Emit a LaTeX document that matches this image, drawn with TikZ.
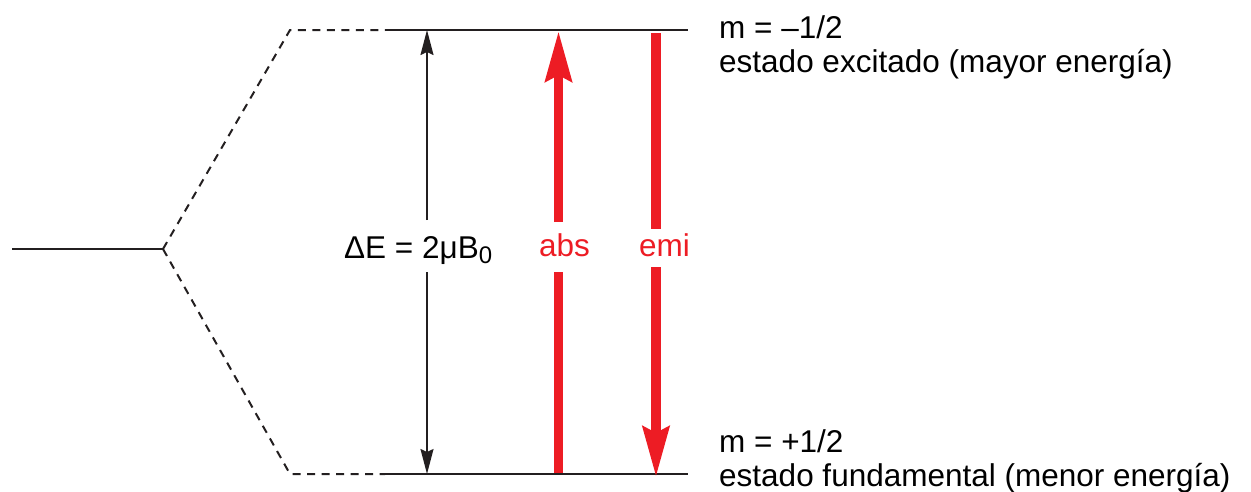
\documentclass[tikz,border=0pt]{standalone}
\usepackage{fontspec}
\setmainfont{Liberation Sans}
\usetikzlibrary{arrows.meta}
\definecolor{myred}{HTML}{ED1C24}
\definecolor{myblack}{HTML}{231F20}
\begin{document}
\begin{tikzpicture}[x=1pt,y=-1pt,
  level/.style={myblack,line width=2.6pt},
  dashlev/.style={myblack,line width=2pt,dash pattern=on 8pt off 6.5pt},
  gap/.style={myblack,line width=1.6pt,-{Stealth[length=25pt,width=13pt,inset=3pt]}},
  redarr/.style={myred,line width=9.5pt,-{Stealth[length=50pt,width=26pt,inset=6pt]}},
  redbar/.style={myred,line width=9.5pt},
  lbl/.style={inner sep=0pt,font=\fontsize{31.5}{36}\selectfont},
  redlbl/.style={lbl,text=myred}]
\useasboundingbox (0,0) rectangle (1251,491);
% coordinates
\coordinate (L0) at (12,249);
\coordinate (C) at (163,249);
\coordinate (TL) at (290,30);
\coordinate (TM) at (385,30);
\coordinate (TR) at (688,30);
\coordinate (BL) at (290,474);
\coordinate (BM) at (385,474);
\coordinate (BR) at (688,474);
% levels
\draw[level] (L0) -- (C);
\draw[dashlev] (C) -- (TL) -- (TM);
\draw[dashlev] (C) -- (BL) -- (BM);
\draw[level] (TM) -- (TR);
\draw[level] (BM) -- (BR);
% delta E arrow
\coordinate (dTa) at (427,220);
\coordinate (dTb) at (427,30);
\coordinate (dBa) at (427,272);
\coordinate (dBb) at (427,474);
\draw[gap] (dTa) -- (dTb);
\draw[gap] (dBa) -- (dBb);
\node[lbl,anchor=base west] (dE) at (344,258) {ΔE = 2μB\raisebox{-0.35ex}{\fontsize{24}{26}\selectfont 0}};
% abs
\coordinate (a1) at (558.5,473);
\coordinate (a2) at (558.5,272);
\coordinate (a3) at (558.5,222);
\coordinate (a4) at (558.5,31);
\draw[redbar] (a1) -- (a2);
\draw[redarr] (a3) -- (a4);
\node[redlbl,anchor=base west] (abs) at (539,256) {abs};
% emi
\coordinate (e1) at (656,33);
\coordinate (e2) at (656,229);
\coordinate (e3) at (656,267);
\coordinate (e4) at (656,477);
\draw[redbar] (e1) -- (e2);
\draw[redarr] (e3) -- (e4);
\node[redlbl,anchor=base west] (emi) at (639,256) {emi};
% right labels
\node[lbl,anchor=base west] (m1) at (719,38) {m = –1/2};
\node[lbl,anchor=base west] (s1) at (719,72) {estado excitado (mayor energía)};
\node[lbl,anchor=base west] (m2) at (719,452) {m = +1/2};
\node[lbl,anchor=base west] (s2) at (719,486) {estado fundamental (menor energía)};
\end{tikzpicture}
\end{document}
